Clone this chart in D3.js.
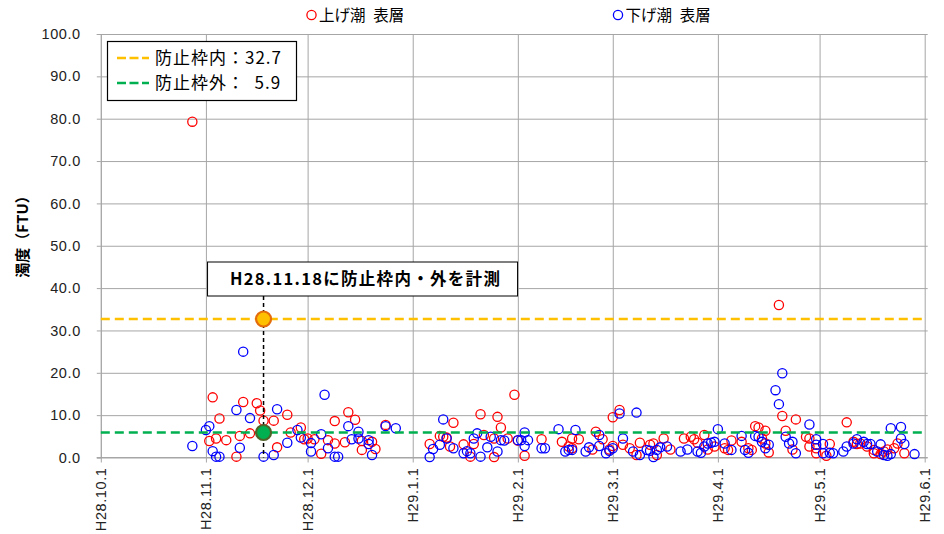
<!DOCTYPE html>
<html><head><meta charset="utf-8">
<script src="https://cdn.jsdelivr.net/npm/d3@7"></script>
<style>body{margin:0;background:#fff} svg{display:block}</style>
</head><body><svg id="c" width="944" height="534"></svg>
<script>
// ---- data ----
const upDates = ["2016-10-28","2016-11-02","2016-11-03","2016-11-04","2016-11-05","2016-11-07","2016-11-10","2016-11-11","2016-11-12","2016-11-14",
"2016-11-16","2016-11-17","2016-11-18","2016-11-21","2016-11-22","2016-11-25","2016-11-26","2016-11-29","2016-11-30","2016-12-01",
"2016-12-03","2016-12-05","2016-12-07","2016-12-09","2016-12-09","2016-12-12","2016-12-13","2016-12-15","2016-12-17","2016-12-17",
"2016-12-20","2016-12-21","2016-12-24",
"2017-01-06","2017-01-09","2017-01-10","2017-01-11","2017-01-12","2017-01-13","2017-01-16","2017-01-18","2017-01-19","2017-01-21",
"2017-01-22","2017-01-25","2017-01-25","2017-01-26","2017-01-27","2017-01-29","2017-01-31","2017-02-01","2017-02-03","2017-02-08",
"2017-02-14","2017-02-16","2017-02-17","2017-02-17","2017-02-19","2017-02-23","2017-02-24","2017-02-26","2017-02-28","2017-03-01",
"2017-03-01","2017-03-03","2017-03-04","2017-03-06","2017-03-08","2017-03-09","2017-03-12","2017-03-13","2017-03-14","2017-03-16",
"2017-03-18","2017-03-22","2017-03-24","2017-03-25","2017-03-26","2017-03-28","2017-03-29","2017-03-31","2017-04-03","2017-04-04",
"2017-04-05","2017-04-08","2017-04-10","2017-04-11","2017-04-12","2017-04-13","2017-04-14","2017-04-15","2017-04-15","2017-04-16",
"2017-04-19","2017-04-20","2017-04-21","2017-04-23","2017-04-24","2017-04-27","2017-04-28","2017-04-28","2017-04-30","2017-04-30",
"2017-05-03","2017-05-04","2017-05-09","2017-05-11","2017-05-12","2017-05-13","2017-05-15","2017-05-17","2017-05-17","2017-05-19",
"2017-05-20","2017-05-21","2017-05-23","2017-05-24","2017-05-26"];
const upValues = [79.3,3.9,14.2,4.5,9.2,4.1,0.2,5.1,13.1,5.7,
12.8,11.1,8.7,8.7,2.4,10.1,5.9,7.1,4.3,4.5,
4.3,0.9,4.1,3.3,8.6,3.6,10.7,8.9,3.9,1.8,
3.7,2.0,7.7,
3.2,5.1,4.9,4.7,2.6,8.2,3.1,0.2,3.2,10.2,
5.3,4.5,0.1,9.6,7.1,4.5,14.8,4.0,0.4,4.3,
3.7,2.6,2.2,4.5,4.3,1.9,6.1,4.3,1.9,2.7,
9.5,11.2,3.0,2.2,0.6,3.5,3.0,3.3,0.6,4.5,
1.9,4.5,4.9,4.3,3.5,5.3,1.9,2.6,2.2,1.8,
4.0,3.7,2.2,1.8,7.4,7.1,4.5,6.3,3.3,1.2,
36.0,9.8,6.3,1.9,9.0,4.9,4.5,2.6,2.2,1.0,
0.4,3.2,8.3,3.7,3.2,3.3,2.6,1.8,1.0,0.8,
1.4,1.9,2.2,3.3,1.0];

const downDates = ["2016-10-28","2016-11-01","2016-11-02","2016-11-03","2016-11-04","2016-11-05","2016-11-10","2016-11-11","2016-11-12","2016-11-14",
"2016-11-18","2016-11-21","2016-11-22","2016-11-25","2016-11-28","2016-11-29","2016-12-02","2016-12-02","2016-12-05","2016-12-06",
"2016-12-07","2016-12-09","2016-12-10","2016-12-13","2016-12-14","2016-12-16","2016-12-16","2016-12-19","2016-12-19","2016-12-20",
"2016-12-24","2016-12-27",
"2017-01-06","2017-01-07","2017-01-09","2017-01-10","2017-01-11","2017-01-13","2017-01-16","2017-01-17","2017-01-18","2017-01-19",
"2017-01-20","2017-01-21","2017-01-23","2017-01-24","2017-01-26","2017-01-27","2017-01-28","2017-02-01","2017-02-02","2017-02-03",
"2017-02-03","2017-02-04","2017-02-08","2017-02-09","2017-02-13","2017-02-15","2017-02-16","2017-02-17","2017-02-18","2017-02-21",
"2017-02-22","2017-02-25","2017-02-25","2017-02-27","2017-02-28","2017-03-01","2017-03-03","2017-03-04","2017-03-07","2017-03-08",
"2017-03-09","2017-03-11","2017-03-12","2017-03-13","2017-03-14","2017-03-15","2017-03-17","2017-03-21","2017-03-23","2017-03-26",
"2017-03-27","2017-03-28","2017-03-29","2017-03-30","2017-03-31","2017-04-01","2017-04-03","2017-04-05","2017-04-08","2017-04-09",
"2017-04-10","2017-04-12","2017-04-13","2017-04-14","2017-04-15","2017-04-16","2017-04-18","2017-04-19","2017-04-20","2017-04-21",
"2017-04-22","2017-04-23","2017-04-24","2017-04-28","2017-04-30","2017-04-30","2017-05-02","2017-05-02","2017-05-04","2017-05-05",
"2017-05-08","2017-05-09","2017-05-11","2017-05-12","2017-05-14","2017-05-15","2017-05-16","2017-05-18","2017-05-19","2017-05-20",
"2017-05-21","2017-05-22","2017-05-22","2017-05-25","2017-05-25","2017-05-26","2017-05-29"];
const downValues = [2.7,6.5,7.4,1.5,0.2,0.2,11.2,2.3,25.0,9.3,
0.2,0.6,11.4,3.5,6.5,4.7,3.4,1.4,5.5,14.8,
2.2,0.2,0.2,7.4,4.3,6.1,4.5,4.1,3.2,0.6,
7.4,6.9,
0.1,2.0,3.0,9.0,4.5,2.2,1.0,1.5,1.0,4.5,
5.7,0.2,2.4,4.9,1.4,4.1,4.0,4.1,4.1,5.9,
2.7,4.1,2.2,2.2,6.7,1.4,1.8,1.8,6.5,1.4,
2.4,5.3,2.7,1.0,1.6,2.2,10.4,4.5,1.4,10.6,
0.6,1.8,1.6,0.1,1.8,2.4,2.6,1.4,1.9,1.4,
1.1,2.6,3.3,3.5,3.7,6.7,3.3,1.8,5.1,1.8,
1.1,5.1,4.9,3.7,2.2,3.0,15.9,12.6,19.9,4.9,
3.3,3.7,1.0,7.8,4.3,3.0,3.2,1.0,1.1,1.0,
1.4,2.6,3.3,4.3,3.7,3.2,3.2,1.4,3.1,0.6,
0.4,0.8,6.9,4.5,7.2,3.2,0.8];

const seriesNames = ["上げ潮\u2002表層", "下げ潮\u2002表層"];
const seriesColors = ["#FF0000", "#0000FF"];
const yTicks = [0,10,20,30,40,50,60,70,80,90,100];
const xTickDates = ["2016-10-01","2016-11-01","2016-12-01","2017-01-01","2017-02-01","2017-03-01","2017-04-01","2017-05-01","2017-06-01"];
const xTickLabels = ["H28.10.1","H28.11.1","H28.12.1","H29.1.1","H29.2.1","H29.3.1","H29.4.1","H29.5.1","H29.6.1"];
const limitNames = ["防止枠内", "防止枠外"];
const limitValues = [32.7, 5.9];
const limitValueLabels = ["32.7", "  5.9"];
const limitColors = ["#FFC000", "#00B050"];
const measureDate = "2016-11-18";
const annotationText = "H28.11.18に防止枠内・外を計測";
const yTitle = "濁度（FTU）";

// ---- chart ----
const parse = d3.timeParse("%Y-%m-%d");
const svg = d3.select("#c");
const L = 100.8, R = 924.7, T = 34, B = 457.5;
const x = d3.scaleTime().domain([parse(xTickDates[0]), parse(xTickDates[xTickDates.length-1])]).range([L, R]);
const y = d3.scaleLinear().domain([0, 100]).range([B, T]);
const gridColor = "#A6A6A6";
const numFont = "'Liberation Sans', Arial, sans-serif";
const jpFont = "'Noto Sans CJK JP', sans-serif";

// horizontal grid
const gy = svg.append("g").attr("transform", `translate(${L},0)`)
  .call(d3.axisLeft(y).tickValues(yTicks).tickSize(-(R - L + 3)).tickFormat(""));
gy.select(".domain").remove();
gy.selectAll("line").attr("stroke", gridColor).attr("x1", 0);
// vertical grid
const gx = svg.append("g").attr("transform", `translate(0,${B})`)
  .call(d3.axisBottom(x).tickValues(xTickDates.map(parse)).tickSize(-(B - T)).tickFormat(""));
gx.select(".domain").remove();
gx.selectAll("line").attr("stroke", gridColor);

// y axis
const ya = svg.append("g").attr("transform", `translate(${L},0)`)
  .call(d3.axisLeft(y).tickValues(yTicks).tickSize(4).tickPadding(16).tickFormat(d3.format(".1f")));
ya.select(".domain").attr("stroke", gridColor);
ya.selectAll("line").attr("stroke", gridColor);
ya.selectAll("text").attr("font-family", numFont).attr("font-size", 14.5).attr("fill", "#222").attr("letter-spacing", "0.6px");

// x axis
const xa = svg.append("g").attr("transform", `translate(0,${B})`)
  .call(d3.axisBottom(x).tickValues(xTickDates.map(parse)).tickSize(5).tickFormat((d, i) => xTickLabels[i]));
xa.select(".domain").attr("stroke", gridColor).attr("d", `M${L-4},0H${R+3}`);
xa.selectAll("line").attr("stroke", gridColor);
xa.selectAll("text").attr("font-family", numFont).attr("font-size", 14.5).attr("fill", "#222")
  .attr("letter-spacing", "0.6px")
  .attr("transform", "rotate(-90)").attr("text-anchor", "end").attr("x", -10).attr("y", 0).attr("dy", "0.35em");

// y title
svg.append("text").attr("transform", `translate(28,233) rotate(-90)`).attr("text-anchor", "middle")
  .attr("font-family", jpFont).attr("font-weight", "bold").attr("font-size", 15).attr("fill", "#000").text(yTitle);

// data
const series = [
  {dates: upDates, values: upValues, color: seriesColors[0]},
  {dates: downDates, values: downValues, color: seriesColors[1]}
];
series.forEach(s => {
  svg.append("g").selectAll("circle").data(s.dates.map((d, i) => [parse(d), s.values[i]])).join("circle")
    .attr("cx", d => x(d[0])).attr("cy", d => y(d[1])).attr("r", 4.6)
    .attr("fill", "none").attr("stroke", s.color).attr("stroke-width", 1.3);
});

// limit lines
limitValues.forEach((v, i) => {
  svg.append("line").attr("x1", L).attr("x2", R).attr("y1", y(v)).attr("y2", y(v))
    .attr("stroke", limitColors[i]).attr("stroke-width", 2.6).attr("stroke-dasharray", "9,5");
});

// annotation
const mx = x(parse(measureDate));
const boxL = mx - 56, boxW = 310, boxT = 262, boxH = 34;
svg.append("line").attr("x1", mx).attr("x2", mx).attr("y1", boxT + boxH).attr("y2", y(0))
  .attr("stroke", "#000").attr("stroke-width", 1.5).attr("stroke-dasharray", "4,3");
svg.append("circle").attr("cx", mx).attr("cy", y(limitValues[0])).attr("r", 7.5)
  .attr("fill", "#FFC000").attr("stroke", "#E46C0A").attr("stroke-width", 2.2);
svg.append("circle").attr("cx", mx).attr("cy", y(limitValues[1])).attr("r", 7.5)
  .attr("fill", "#00B050").attr("stroke", "#4F6228").attr("stroke-width", 2.2);
svg.append("rect").attr("x", boxL).attr("y", boxT).attr("width", boxW).attr("height", boxH)
  .attr("fill", "#fff").attr("stroke", "#000").attr("stroke-width", 1);
svg.append("text").attr("x", boxL + boxW / 2 + 3).attr("y", boxT + boxH / 2).attr("dy", "0.36em")
  .attr("text-anchor", "middle").attr("font-family", jpFont).attr("font-weight", "bold")
  .attr("font-size", 16.5).attr("letter-spacing", "1.3px").attr("fill", "#000").text(annotationText);

// inset legend
svg.append("rect").attr("x", 107.5).attr("y", 41.5).attr("width", 189).attr("height", 59)
  .attr("fill", "#fff").attr("stroke", "#000").attr("stroke-width", 1.2);
limitNames.forEach((n, i) => {
  const ly = 58 + i * 25;
  svg.append("line").attr("x1", 117).attr("x2", 149).attr("y1", ly).attr("y2", ly)
    .attr("stroke", limitColors[i]).attr("stroke-width", 2.6).attr("stroke-dasharray", "9,3.5");
  svg.append("text").attr("x", 155).attr("y", ly).attr("dy", "0.36em")
    .attr("font-family", jpFont).attr("font-size", 17).attr("letter-spacing", "1px").attr("fill", "#000")
    .style("white-space", "pre").text(n + "：" + limitValueLabels[i]);
});

// top legend
const legX = [311.5, 618];
seriesNames.forEach((n, i) => {
  svg.append("circle").attr("cx", legX[i]).attr("cy", 15).attr("r", 4.6)
    .attr("fill", "none").attr("stroke", seriesColors[i]).attr("stroke-width", 1.3);
  svg.append("text").attr("x", legX[i] + 7.5).attr("y", 15).attr("dy", "0.36em")
    .attr("font-family", jpFont).attr("font-size", 15.5).attr("fill", "#000")
    .style("white-space", "pre").text(n);
});
</script></body></html>
